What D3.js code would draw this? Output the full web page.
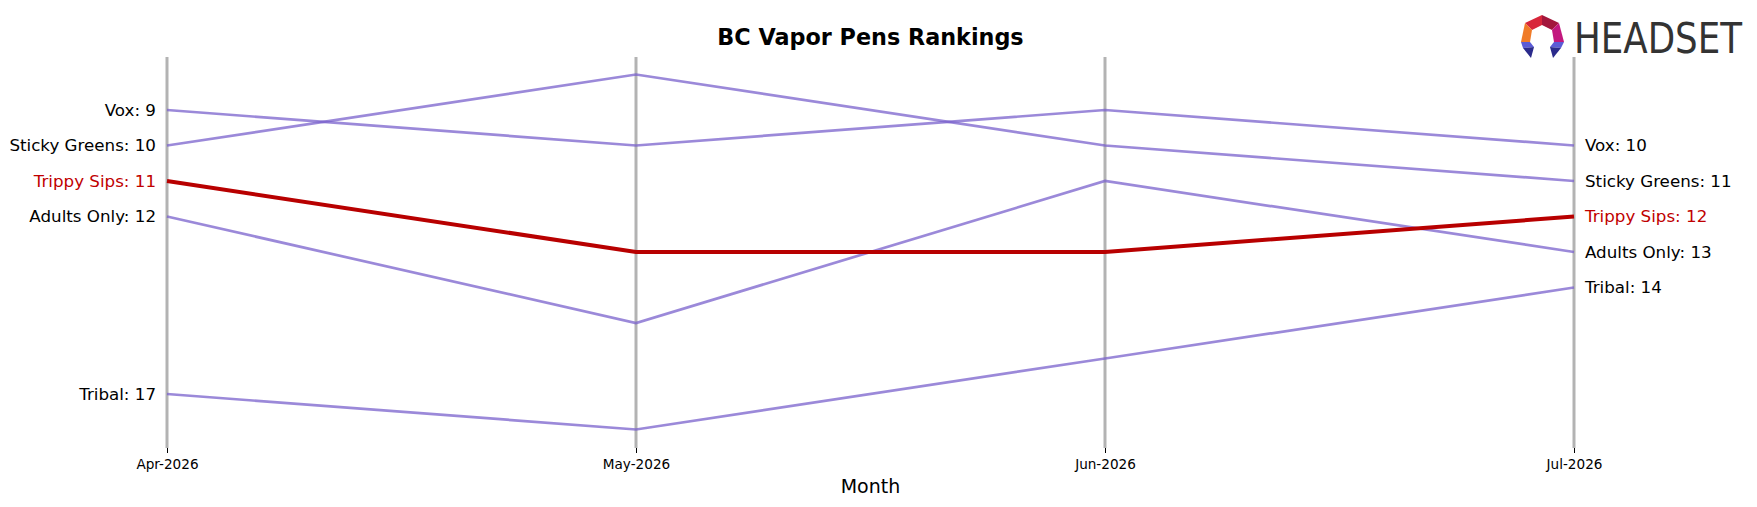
<!DOCTYPE html>
<html>
<head>
<meta charset="utf-8">
<script src="https://cdn.jsdelivr.net/npm/d3@7"></script>
<style>
  html, body { margin: 0; padding: 0; background: #fff; }
  svg { display: block; font-family: "DejaVu Sans", sans-serif; }
</style>
</head>
<body>
<svg id="chart" width="1757" height="507"></svg>
<script>
const months = ["Apr-2026", "May-2026", "Jun-2026", "Jul-2026"];
const brands = ["Vox", "Sticky Greens", "Trippy Sips", "Adults Only", "Tribal"];
const voxRanks = [9, 10, 9, 10];
const stickyGreensRanks = [10, 8, 10, 11];
const trippySipsRanks = [11, 13, 13, 12];
const adultsOnlyRanks = [12, 15, 11, 13];
const tribalRanks = [17, 18, 16, 14];
const highlight = "Trippy Sips";
const title = "BC Vapor Pens Rankings";
const xLabel = "Month";

const series = [
  { name: "Vox", ranks: voxRanks },
  { name: "Sticky Greens", ranks: stickyGreensRanks },
  { name: "Trippy Sips", ranks: trippySipsRanks },
  { name: "Adults Only", ranks: adultsOnlyRanks },
  { name: "Tribal", ranks: tribalRanks }
];

const svg = d3.select("#chart");
const x = d3.scalePoint().domain(months).range([167, 1574]);
const y = d3.scaleLinear().domain([9, 17]).range([110, 394]);
const axisTop = 57, axisBottom = 448;

const red = "#b80000";
const lav = "#7a62cc";

// vertical month axes
svg.append("g").selectAll("line").data(months).join("line")
  .attr("x1", d => x(d)).attr("x2", d => x(d))
  .attr("y1", axisTop).attr("y2", axisBottom)
  .attr("stroke", "#b3b3b3").attr("stroke-width", 3);

// bottom axis ticks + labels
const xAxis = d3.axisBottom(x).tickSize(5).tickPadding(6);
const gx = svg.append("g").attr("transform", `translate(0,${axisBottom})`).call(xAxis);
gx.select(".domain").remove();
gx.selectAll(".tick line").attr("stroke", "#000").attr("stroke-width", 1);
gx.selectAll(".tick text").attr("font-size", "13.6px").attr("font-family", "DejaVu Sans").attr("fill", "#000");

const line = d3.line().x((d, i) => x(months[i])).y(d => y(d));

// non-highlight lines
svg.append("g").selectAll("path").data(series.filter(s => s.name !== highlight)).join("path")
  .attr("d", d => line(d.ranks))
  .attr("fill", "none").attr("stroke", lav).attr("stroke-opacity", 0.75)
  .attr("stroke-width", 2.7);

// highlight
svg.append("g").selectAll("path").data(series.filter(s => s.name === highlight)).join("path")
  .attr("d", d => line(d.ranks))
  .attr("fill", "none").attr("stroke", red).attr("stroke-width", 4);

// left labels
svg.append("g").selectAll("text").data(series).join("text")
  .attr("x", x(months[0]) - 11)
  .attr("y", d => y(d.ranks[0]))
  .attr("dy", "0.35em")
  .attr("text-anchor", "end")
  .attr("font-size", "16.7px")
  .attr("fill", d => d.name === highlight ? "#c00000" : "#000")
  .text(d => `${d.name}: ${d.ranks[0]}`);

// right labels
const last = months.length - 1;
svg.append("g").selectAll("text").data(series).join("text")
  .attr("x", x(months[last]) + 11)
  .attr("y", d => y(d.ranks[last]))
  .attr("dy", "0.35em")
  .attr("text-anchor", "start")
  .attr("font-size", "16.7px")
  .attr("fill", d => d.name === highlight ? "#c00000" : "#000")
  .text(d => `${d.name}: ${d.ranks[last]}`);

// title
svg.append("text").attr("x", (x(months[0]) + x(months[last])) / 2).attr("y", 45)
  .attr("text-anchor", "middle").attr("font-size", "22.3px").attr("font-weight", "bold")
  .text(title);

// x label
svg.append("text").attr("x", (x(months[0]) + x(months[last])) / 2).attr("y", 493)
  .attr("text-anchor", "middle").attr("font-size", "19px")
  .text(xLabel);

// logo
const logo = svg.append("g").attr("transform", "translate(1520,15)");
const polys = [
  { p: [[22,0],[22,10],[12,15],[5,8]], c: "#d8263a" },
  { p: [[22,0],[39,8],[32,15],[22,10]], c: "#a3173c" },
  { p: [[5,8],[12,15],[10,27],[1,27]], c: "#f07b28" },
  { p: [[39,8],[44,27],[34,27],[32,15]], c: "#c2187e" },
  { p: [[1,27],[10,27],[14,32],[3,33]], c: "#5b5bd6" },
  { p: [[3,33],[14,32],[11,43]], c: "#2b2b8c" },
  { p: [[44,27],[34,27],[30,32],[41,33]], c: "#5b5bd6" },
  { p: [[41,33],[30,32],[33,43]], c: "#2b2b8c" }
];
logo.selectAll("polygon").data(polys).join("polygon")
  .attr("points", d => d.p.map(q => q.join(",")).join(" "))
  .attr("fill", d => d.c);
svg.append("text").attr("x", 1574).attr("y", 53)
  .attr("font-family", "'DejaVu Sans Condensed', 'Liberation Sans Narrow', sans-serif")
  .attr("font-size", "42px").attr("fill", "#333")
  .attr("textLength", 168).attr("lengthAdjust", "spacingAndGlyphs")
  .text("HEADSET");
</script>
</body>
</html>
